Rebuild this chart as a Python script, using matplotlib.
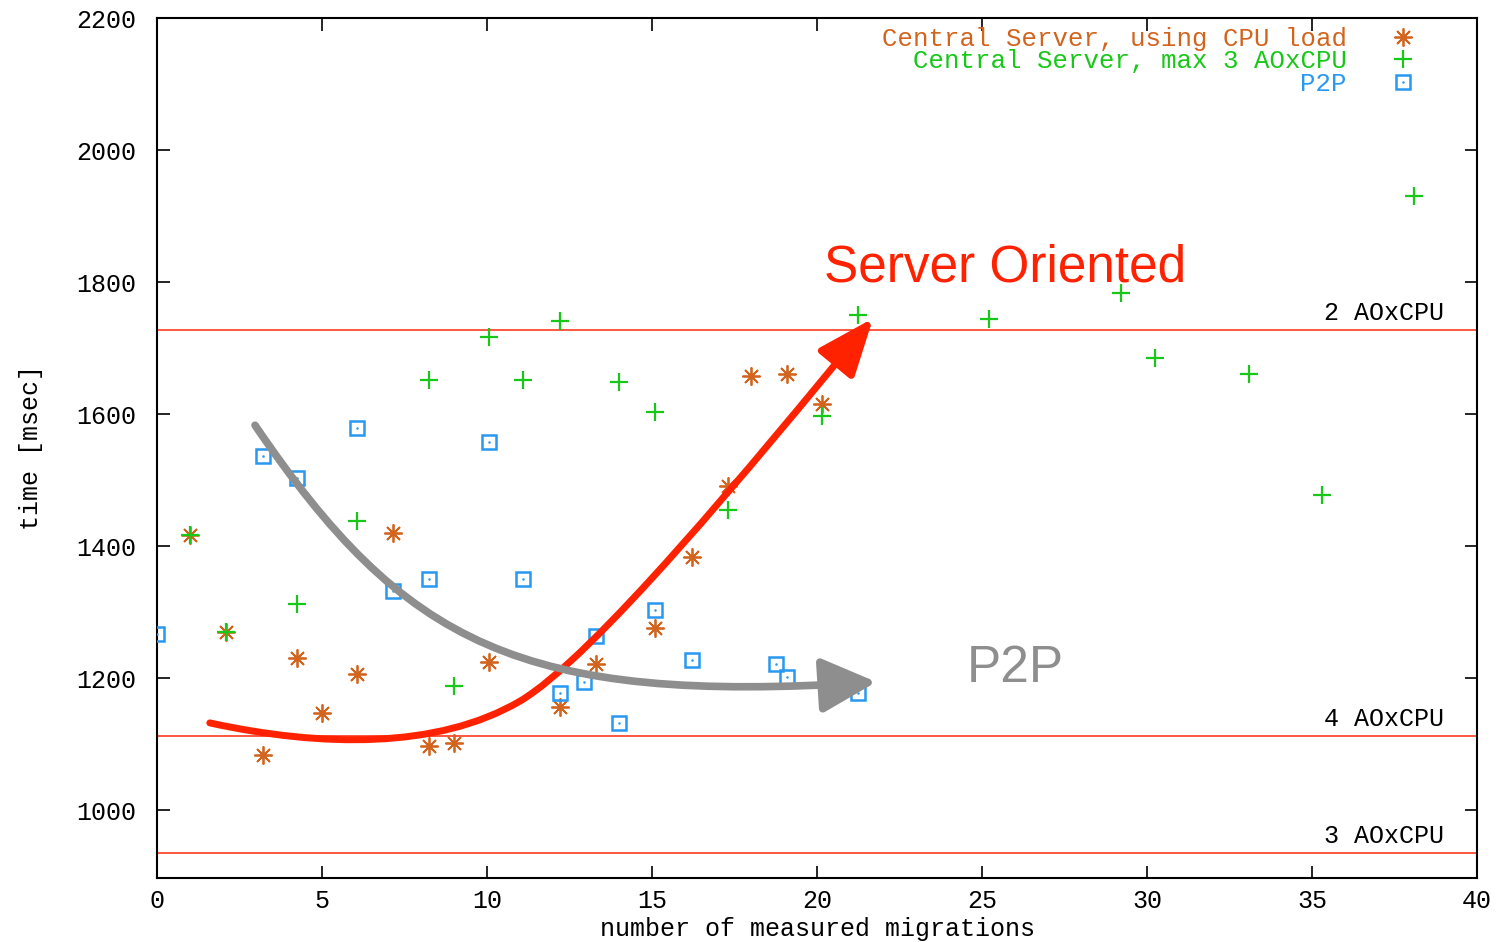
import matplotlib
matplotlib.use("Agg")
import matplotlib.pyplot as plt
from matplotlib.path import Path
from matplotlib.patches import FancyArrowPatch
from matplotlib.legend_handler import HandlerTuple

# Central Server, using CPU load
cpu_x = [1.0, 2.1, 3.2, 4.25, 5.0, 6.05, 7.15, 8.25, 9.0, 10.05, 12.2, 13.3, 15.1, 16.2, 17.3, 18.0, 19.1, 20.15]
cpu_y = [1417, 1270, 1083, 1230, 1147, 1206, 1420, 1097, 1102, 1224, 1156, 1221, 1276, 1383, 1491, 1658, 1661, 1615]

# Central Server, max 3 AOxCPU
max3_x = [1.0, 2.1, 4.25, 6.05, 8.25, 9.0, 10.05, 11.1, 12.2, 14.0, 15.1, 17.3, 20.15, 21.25,
          25.2, 29.2, 30.25, 33.1, 35.3, 38.1]
max3_y = [1417, 1270, 1312, 1438, 1652, 1188, 1717, 1652, 1741, 1649, 1603, 1455, 1597, 1750,
          1744, 1783, 1685, 1661, 1477, 1930]

# P2P
p2p_x = [0.0, 3.2, 4.25, 6.05, 7.15, 8.25, 10.05, 11.1, 12.2, 12.95, 13.3, 14.0, 15.1, 16.2, 18.75, 19.1, 21.25]
p2p_y = [1267, 1536, 1503, 1579, 1332, 1350, 1558, 1350, 1177, 1194, 1264, 1132, 1303, 1227, 1221, 1202, 1177]

# reference levels
levels = [1727, 1112, 935]
level_labels = ["2 AOxCPU", "4 AOxCPU", "3 AOxCPU"]

orange = "#d2641e"
green = "#18c818"
blue = "#2898f0"
mono = "Liberation Mono"

fig = plt.figure(figsize=(15.09, 9.42), dpi=100)
ax = fig.add_axes([157 / 1509, 1 - 878 / 942, 1320 / 1509, 860 / 942])

for lv, lab in zip(levels, level_labels):
    ax.axhline(lv, color="#ff3a1e", lw=1.2, zorder=1)
    ax.text(39.0, lv + 8, lab, ha="right", va="bottom", family=mono, fontsize=18, color="black")

h_cpu, = ax.plot(cpu_x, cpu_y, ls="none", marker=(8, 2, 0), ms=13, mew=1.3, color=orange, zorder=3)
h_max, = ax.plot(max3_x, max3_y, ls="none", marker="+", ms=13, mew=1.6, color=green, zorder=3)
h_sq, = ax.plot(p2p_x, p2p_y, ls="none", marker="s", ms=10, mew=1.8, mfc="none", color=blue, zorder=3)
h_dot, = ax.plot(p2p_x, p2p_y, ls="none", marker="o", ms=1.8, mew=0, color=blue, zorder=3)

ax.legend([h_cpu, h_max, (h_sq, h_dot)],
          ["Central Server, using CPU load", "Central Server, max 3 AOxCPU", "P2P"],
          handler_map={tuple: HandlerTuple(ndivide=1)},
          loc="upper right", bbox_to_anchor=(0.954, 0.99), frameon=False, markerfirst=False,
          labelcolor="linecolor", prop={"family": mono, "size": 18.5},
          handlelength=1.0, handletextpad=1.7, labelspacing=-0.05, borderpad=0, borderaxespad=0)

# annotation arrows
red_path = Path([(1.6, 1132), (5.0, 1095), (8.5, 1092), (11.0, 1165),
                 (13.2, 1230), (18.0, 1520), (21.7, 1745)],
                [Path.MOVETO, Path.CURVE4, Path.CURVE4, Path.CURVE4,
                 Path.CURVE4, Path.CURVE4, Path.CURVE4])
ax.add_patch(FancyArrowPatch(path=red_path, arrowstyle="-|>,head_length=1.25,head_width=0.5",
                             mutation_scale=28, lw=5, color="#ff2200", zorder=5))

gray_path = Path([(2.97, 1583), (7.5, 1250), (11.0, 1160), (21.8, 1194)],
                 [Path.MOVETO, Path.CURVE4, Path.CURVE4, Path.CURVE4])
ax.add_patch(FancyArrowPatch(path=gray_path, arrowstyle="-|>,head_length=1.2,head_width=0.6",
                             mutation_scale=28, lw=5.5, color="#8e8e8e", zorder=5))

ax.text(25.7, 1821, "Server Oriented", ha="center", va="center", family="Liberation Sans",
        fontsize=37, color="#ff2200")
ax.text(26.0, 1215, "P2P", ha="center", va="center", family="Liberation Sans",
        fontsize=37, color="#8e8e8e")

ax.set_xlim(0, 40)
ax.set_ylim(897, 2200)
ax.set_xticks(range(0, 41, 5))
ax.set_yticks(range(1000, 2201, 200))
ax.tick_params(direction="in", length=9, width=1.2, top=True, right=True, labelsize=18)
ax.tick_params(axis="y", pad=15)
ax.tick_params(axis="x", pad=8)
for lab in ax.get_xticklabels() + ax.get_yticklabels():
    lab.set_family(mono)
for s in ax.spines.values():
    s.set_linewidth(1.5)

ax.set_xlabel("number of measured migrations", family=mono, fontsize=18, labelpad=3)
ax.set_ylabel("time [msec]", family=mono, fontsize=18, labelpad=24)

fig.savefig("out.png", dpi=100)
